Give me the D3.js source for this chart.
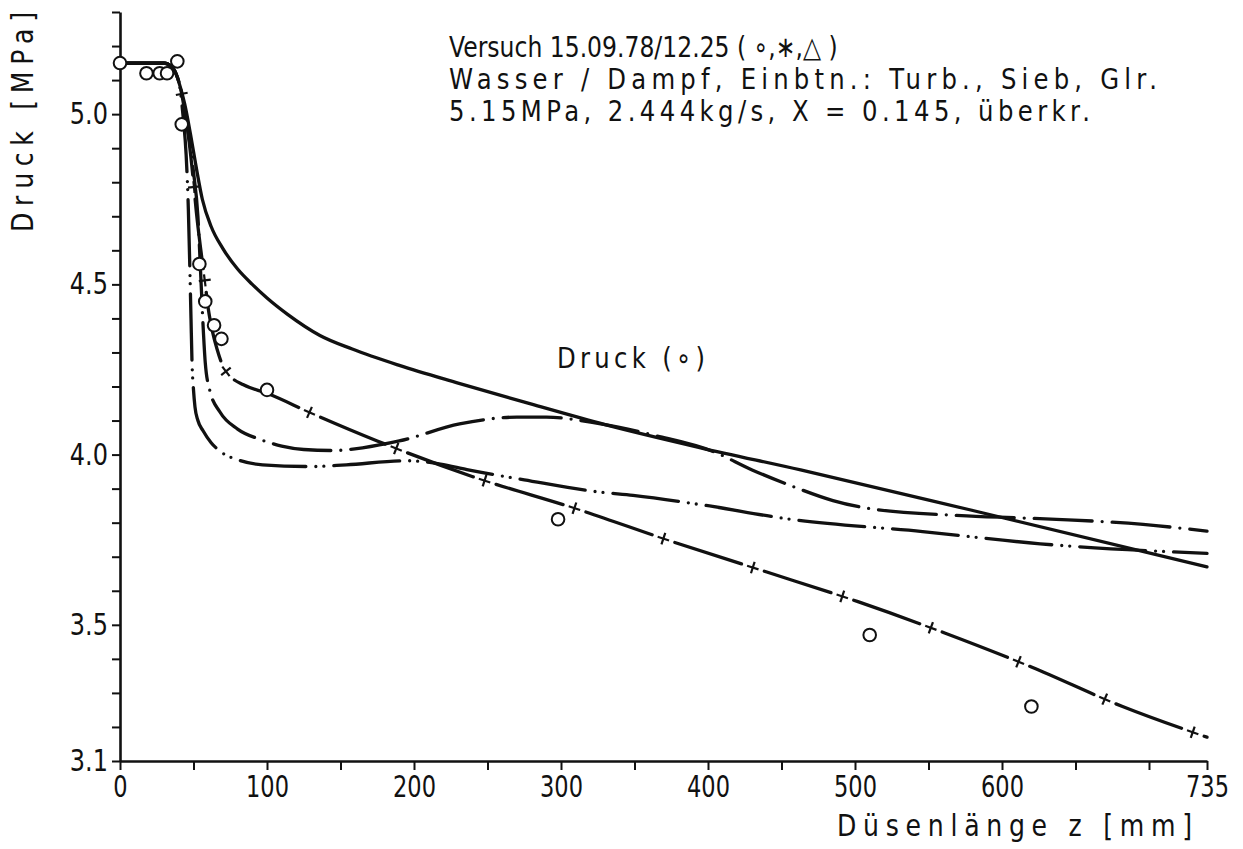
<!DOCTYPE html>
<html>
<head>
<meta charset="utf-8">
<script src="https://cdn.jsdelivr.net/npm/d3@7"></script>
<style>
  html, body { margin: 0; padding: 0; background: #fff; }
  svg { display: block; }
  text { font-family: "DejaVu Sans", sans-serif; fill: #111; }
</style>
</head>
<body>
<svg id="chart" width="1243" height="849"></svg>
<script>
// Pressure along the nozzle, z in mm, p in MPa

// solid curve, labelled "Druck (o)"
const zDruck = [0, 30, 35, 38, 41, 44, 48, 52, 56, 62, 70, 80, 90, 100, 114, 136, 158, 190, 230, 280, 330, 395, 463, 578, 735];
const pDruck = [5.15, 5.15, 5.14, 5.12, 5.08, 5.03, 4.94, 4.84, 4.75, 4.67, 4.605, 4.545, 4.50, 4.46, 4.412, 4.35, 4.31, 4.262, 4.21, 4.148, 4.088, 4.02, 3.955, 3.838, 3.67];

// long dashes with crosses
const zCross = [0, 30, 35, 38, 41, 44, 47, 50, 52, 55, 58, 60, 63, 66, 70, 75, 84, 100, 131, 175, 240, 311, 376, 440, 502, 561, 620, 682, 735];
const pCross = [5.15, 5.15, 5.14, 5.12, 5.08, 5.01, 4.92, 4.80, 4.71, 4.60, 4.50, 4.43, 4.36, 4.31, 4.26, 4.23, 4.205, 4.18, 4.12, 4.04, 3.935, 3.84, 3.744, 3.655, 3.568, 3.476, 3.376, 3.26, 3.17];

// dash-dot curve with the hump
const zDashDot = [0, 30, 35, 38, 41, 44, 47, 50, 53, 55, 56.5, 58, 61, 68, 80, 95, 110, 125, 145, 165, 190, 231, 270, 290, 327, 365, 403, 430, 458, 485, 512, 576, 637, 696, 735];
const pDashDot = [5.15, 5.15, 5.14, 5.12, 5.08, 5.01, 4.93, 4.83, 4.70, 4.52, 4.38, 4.27, 4.19, 4.125, 4.075, 4.045, 4.025, 4.015, 4.012, 4.02, 4.04, 4.09, 4.11, 4.11, 4.09, 4.055, 4.01, 3.955, 3.906, 3.865, 3.84, 3.82, 3.81, 3.795, 3.775];

// dash-dot-dot curve
const zDashDotDot = [0, 30, 35, 38, 41, 43, 45, 46.5, 47.5, 48.3, 49, 50, 51, 53, 56.5, 62, 68, 80, 97, 131, 154, 195, 218, 236, 275, 326, 349, 395, 456, 546, 626, 735];
const pDashDotDot = [5.15, 5.15, 5.14, 5.12, 5.07, 4.99, 4.88, 4.72, 4.55, 4.40, 4.27, 4.19, 4.14, 4.10, 4.07, 4.035, 4.01, 3.985, 3.97, 3.965, 3.97, 3.982, 3.972, 3.956, 3.926, 3.89, 3.88, 3.853, 3.81, 3.774, 3.738, 3.71];

// measured pressures (circles)
const zMeasured = [0, 18, 27, 32, 39, 42, 54, 58, 64, 69, 100, 298, 510, 620];
const pMeasured = [5.15, 5.12, 5.12, 5.12, 5.155, 4.97, 4.56, 4.45, 4.38, 4.34, 4.19, 3.81, 3.47, 3.26];

// axes
const yTicks = [3.1, 3.2, 3.3, 3.4, 3.5, 3.6, 3.7, 3.8, 3.9, 4.0, 4.1, 4.2, 4.3, 4.4, 4.5, 4.6, 4.7, 4.8, 4.9, 5.0, 5.1, 5.2, 5.3];
const yTickLabels = ["3.1", "3.5", "4.0", "4.5", "5.0"];
const xTicks = [0, 50, 100, 150, 200, 250, 300, 350, 400, 450, 500, 550, 600, 650, 700, 735];
const xTickLabels = ["0", "100", "200", "300", "400", "500", "600", "735"];

const headerLines = [
  "Versuch 15.09.78/12.25 ( \u2218,\u2217,\u25B3 )",
  "Wasser / Dampf, Einbtn.: Turb., Sieb, Glr.",
  "5.15MPa, 2.444kg/s, X = 0.145, \u00FCberkr."
];
const curveLabel = "Druck (\u2218)";
const yTitle = "Druck [MPa]";
const xTitle = "D\u00FCsenl\u00E4nge  z  [mm]";

const ink = "#111";
const narrow = 0.84;   // horizontal squeeze for the stencil-like lettering
const svg = d3.select("#chart");

const x = d3.scaleLinear().domain([0, 700, 735]).range([120, 1149, 1207]);
const y = d3.scaleLinear().domain([3.1, 5.3]).range([761, 12]);

// y axis
const yAxis = d3.axisLeft(y)
  .tickValues(yTicks)
  .tickSize(8)
  .tickSizeOuter(0)
  .tickPadding(4)
  .tickFormat(d => {
    const s = d.toFixed(1);
    return yTickLabels.includes(s) ? s : "";
  });
const gy = svg.append("g").attr("transform", "translate(120,0)").call(yAxis);

// x axis
const xAxis = d3.axisBottom(x)
  .tickValues(xTicks)
  .tickSize(9)
  .tickSizeOuter(0)
  .tickPadding(6)
  .tickFormat(d => xTickLabels.includes(String(d)) ? String(d) : "");
const gx = svg.append("g").attr("transform", "translate(0,761)").call(xAxis);

[gx, gy].forEach(g => {
  g.select(".domain").attr("stroke", ink).attr("stroke-width", 2.6);
  g.selectAll(".tick line").attr("stroke", ink).attr("stroke-width", 2);
  g.selectAll(".tick text").attr("fill", ink).attr("font-size", 30)
    .attr("font-family", "\"DejaVu Sans\", sans-serif");
});
gy.selectAll(".tick text")
  .attr("x", -12 / 0.8)
  .attr("transform", "scale(0.8,1)");
gx.selectAll(".tick text")
  .attr("transform", "scale(0.75,1)");

// curves
const line = d3.line()
  .x(d => x(d[0]))
  .y(d => y(d[1]))
  .curve(d3.curveMonotoneX);

const curves = [
  { z: zDruck, p: pDruck, dash: null },
  { z: zDashDot, p: pDashDot, dash: "58 10 0 10" },
  { z: zDashDotDot, p: pDashDotDot, dash: "66 10 0 8 0 10" },
  { z: zCross, p: pCross, dash: "70 24", crosses: true }
];

const gLines = svg.append("g");
curves.forEach(c => {
  const path = gLines.append("path")
    .datum(d3.zip(c.z, c.p))
    .attr("d", line)
    .attr("fill", "none")
    .attr("stroke", ink)
    .attr("stroke-width", 3.3)
    .attr("stroke-linecap", "round")
    .attr("stroke-linejoin", "round");
  if (c.dash) path.attr("stroke-dasharray", c.dash);

  if (c.crosses) {
    // a small cross sits in each gap of the dashed line
    const node = path.node();
    const total = node.getTotalLength();
    const parts = c.dash.split(" ").map(Number);
    const period = parts[0] + parts[1];
    const gCross = svg.append("g");
    for (let l = parts[0] + parts[1] / 2; l < total - 2; l += period) {
      const a = node.getPointAtLength(l);
      const b = node.getPointAtLength(Math.min(total, l + 1));
      const ang = Math.atan2(b.y - a.y, b.x - a.x) * 180 / Math.PI;
      const g = gCross.append("g")
        .attr("transform", `translate(${a.x},${a.y}) rotate(${ang})`);
      g.append("line").attr("x1", -6).attr("x2", 6).attr("y1", 0).attr("y2", 0)
        .attr("stroke", ink).attr("stroke-width", 2.2);
      g.append("line").attr("x1", 0).attr("x2", 0).attr("y1", -6).attr("y2", 6)
        .attr("stroke", ink).attr("stroke-width", 2.2);
    }
  }
});

// measured points
svg.append("g").selectAll("circle")
  .data(d3.zip(zMeasured, pMeasured))
  .join("circle")
  .attr("cx", d => x(d[0]))
  .attr("cy", d => y(d[1]))
  .attr("r", 6.3)
  .attr("fill", "#fff")
  .attr("stroke", ink)
  .attr("stroke-width", 2);

// lettering: glyphs squeezed horizontally, then spaced out to the given width
function label(str, px, py, size, width, rotate) {
  const t = svg.append("text")
    .attr("font-size", size)
    .text(str);
  const natural = t.node().getComputedTextLength();
  const s = Math.min(narrow, width / natural);
  t.attr("transform", `translate(${px},${py})${rotate ? " rotate(-90)" : ""} scale(${s},1)`);
  if (natural * s < width - 1) {
    t.attr("textLength", width / s).attr("lengthAdjust", "spacing");
  }
}

// header text
const headerWidths = [389, 708, 641];
headerLines.forEach((t, i) => label(t, 449, 57 + i * 32, 29, headerWidths[i]));

// curve label
label(curveLabel, 557, 368, 29, 148);

// axis titles
label(yTitle, 33, 232, 30, 220, true);
label(xTitle, 837, 836, 30, 355);
</script>
</body>
</html>
